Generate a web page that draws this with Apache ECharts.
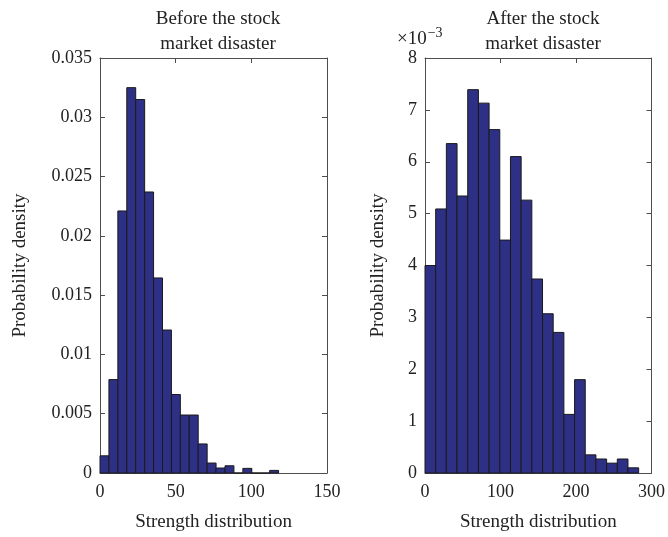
<!DOCTYPE html>
<html>
<head>
<meta charset="utf-8">
<script src="https://cdn.jsdelivr.net/npm/echarts@6/dist/echarts.min.js"></script>
<style>
  html, body { margin: 0; padding: 0; background: #fff; }
  #main { width: 668px; height: 537px; }
</style>
</head>
<body>
<div id="main"></div>
<script>
// histogram bins (MATLAB style, 20 bins each)
var beforeBinStart = 0;
var beforeBinWidth = 5.9;
var beforeDensity = [0.00145, 0.00788, 0.0221, 0.0325, 0.0315, 0.0237, 0.01645, 0.01206, 0.00662, 0.00489,
                     0.00489, 0.00245, 0.00084, 0.00042, 0.00061, 0, 0.00039, 0, 0, 0.00022];

var afterBinStart = 0;
var afterBinWidth = 14.15;
// in units of 1e-3
var afterDensity = [4.00, 5.09, 6.35, 5.34, 7.39, 7.13, 6.62, 4.49, 6.10, 5.26,
                    3.74, 3.07, 2.71, 1.13, 1.80, 0.35, 0.27, 0.19, 0.27, 0.10];

var FONT = '"Liberation Serif", "DejaVu Serif", serif';
var TXT = '#222';
var FRAME = '#4d4d4d';
var BAR = '#2e3085';

var chart = echarts.init(document.getElementById('main'));

function toBins(start, width, vals) {
    return vals.map(function (v, i) {
        return [start + i * width, start + (i + 1) * width, v];
    });
}

var renderBar = function (params, api) {
    var p0 = api.coord([api.value(0), api.value(2)]);
    var p1 = api.coord([api.value(1), 0]);
    return {
        type: 'rect',
        shape: { x: p0[0], y: p0[1], width: p1[0] - p0[0], height: p1[1] - p0[1] },
        style: { fill: BAR, stroke: '#1a1a1a', lineWidth: 1 }
    };
};

function mainX(idx, max, interval) {
    return {
        type: 'value', gridIndex: idx, min: 0, max: max, interval: interval,
        name: 'Strength distribution', nameLocation: 'middle', nameGap: 40,
        nameTextStyle: { fontFamily: FONT, fontSize: 19, color: TXT },
        axisLine: { show: true, onZero: false, lineStyle: { color: FRAME } },
        axisTick: { inside: true, length: 5, lineStyle: { color: FRAME } },
        axisLabel: { fontFamily: FONT, fontSize: 18, color: TXT, margin: 10 },
        splitLine: { show: false }
    };
}
function mirrorX(idx, max, interval) {
    return {
        type: 'value', gridIndex: idx, position: 'top', min: 0, max: max, interval: interval,
        axisLine: { show: true, onZero: false, lineStyle: { color: FRAME } },
        axisTick: { inside: true, length: 5, lineStyle: { color: FRAME } },
        axisLabel: { show: false }, splitLine: { show: false }
    };
}
function mainY(idx, max, interval, gap) {
    return {
        type: 'value', gridIndex: idx, min: 0, max: max, interval: interval,
        name: 'Probability density', nameLocation: 'middle', nameGap: gap, nameRotate: 90,
        nameTextStyle: { fontFamily: FONT, fontSize: 19, color: TXT },
        axisLine: { show: true, onZero: false, lineStyle: { color: FRAME } },
        axisTick: { show: true, inside: true, length: 5, lineStyle: { color: FRAME } },
        axisLabel: { fontFamily: FONT, fontSize: 18, color: TXT, margin: 8 },
        splitLine: { show: false }
    };
}
function mirrorY(idx, max, interval) {
    return {
        type: 'value', gridIndex: idx, position: 'right', min: 0, max: max, interval: interval,
        axisLine: { show: true, onZero: false, lineStyle: { color: FRAME } },
        axisTick: { show: true, inside: true, length: 5, lineStyle: { color: FRAME } },
        axisLabel: { show: false }, splitLine: { show: false }
    };
}

var option = {
    backgroundColor: '#fff',
    animation: false,
    title: [
        { text: 'Before the stock\nmarket disaster', left: 213, top: 2, textAlign: 'center',
          textStyle: { fontFamily: FONT, fontSize: 19, fontWeight: 'normal', color: TXT, lineHeight: 25 } },
        { text: 'After the stock\nmarket disaster', left: 538, top: 2, textAlign: 'center',
          textStyle: { fontFamily: FONT, fontSize: 19, fontWeight: 'normal', color: TXT, lineHeight: 25 } }
    ],
    graphic: [
        { type: 'text', left: 397, top: 26,
          style: { text: '{a|×10}{b|−3}', rich: {
              a: { fontFamily: FONT, fontSize: 19, fill: TXT },
              b: { fontFamily: FONT, fontSize: 14, fill: TXT, verticalAlign: 'top', padding: [0, 0, 12, 1] }
          } } }
    ],
    grid: [
        { left: 100, width: 227, top: 58, height: 417 },
        { left: 425, width: 227, top: 58, height: 417 }
    ],
    xAxis: [mainX(0, 150, 50), mirrorX(0, 150, 50), mainX(1, 300, 100), mirrorX(1, 300, 100)],
    yAxis: [mainY(0, 0.035, 0.005, 70), mirrorY(0, 0.035, 0.005), mainY(1, 8, 1, 37), mirrorY(1, 8, 1)],
    series: [
        { type: 'custom', xAxisIndex: 0, yAxisIndex: 0, renderItem: renderBar,
          encode: { x: [0, 1], y: 2 }, data: toBins(beforeBinStart, beforeBinWidth, beforeDensity) },
        { type: 'custom', xAxisIndex: 2, yAxisIndex: 2, renderItem: renderBar,
          encode: { x: [0, 1], y: 2 }, data: toBins(afterBinStart, afterBinWidth, afterDensity) }
    ]
};
chart.setOption(option);
</script>
</body>
</html>
